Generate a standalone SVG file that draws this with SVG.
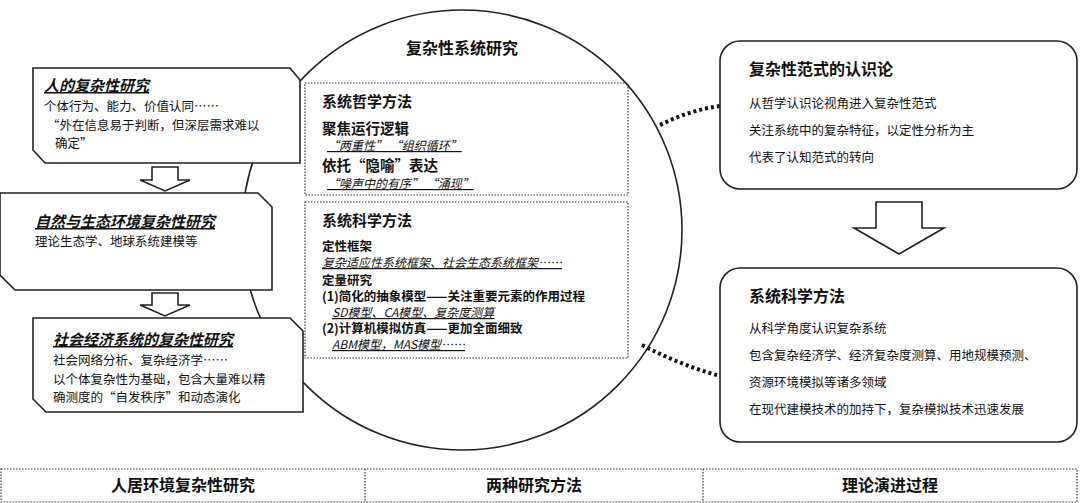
<svg xmlns="http://www.w3.org/2000/svg" width="1080" height="503" viewBox="0 0 1080 503">
<style>
text{font-family:"Noto Sans CJK SC","Liberation Sans",sans-serif;fill:#111}
.ln{fill:#fff;stroke:#222;stroke-width:1.6}
.dot{fill:none;stroke:#333;stroke-width:1.2;stroke-dasharray:1.5 1.5}
.t{font-size:15px;font-weight:bold;font-style:italic;text-decoration:underline}
.h{font-size:16px;font-weight:bold}
.b{font-size:12.5px}
.i{font-size:12px;font-style:italic;text-decoration:underline}
.s{font-size:12.5px;font-weight:600}
.c{stroke:#111;stroke-width:4;stroke-dasharray:3 3;fill:none}
</style>
<rect width="1080" height="503" fill="#fff"/>
<g id="circle"><circle cx="462" cy="230" r="220" class="ln"/>
<text x="462" y="54" class="h" text-anchor="middle">复杂性系统研究</text></g>
<g id="connectors">
<path class="c" d="M660,125 Q690,110 720,106"/>
<path class="c" d="M642,345 Q680,365 720,376"/>
<polygon class="ln" points="152,167 178,167 178,180 190,180 165,191 140,180 152,180"/>
<polygon class="ln" points="152,293 178,293 178,305 190,305 165,316 140,305 152,305"/>
<polygon class="ln" points="876,202 922,202 922,228 944,228 899,254 854,228 876,228"/>
</g>
<g id="philo"><rect x="305" y="83" width="323" height="112" class="dot"/>
<text x="322" y="107" class="h" style="font-size:15px">系统哲学方法</text>
<text x="322" y="134" style="font-weight:600;font-size:14.5px">聚焦运行逻辑</text>
<text x="327" y="150" class="i">“两重性” “组织循环”</text>
<text x="322" y="171" style="font-weight:600;font-size:14.5px">依托“隐喻”表达</text>
<text x="327" y="188" class="i">“噪声中的有序” “涌现”</text></g>
<g id="sci"><rect x="305" y="202" width="323" height="156" class="dot"/>
<text x="322" y="226" class="h" style="font-size:15px">系统科学方法</text>
<text x="322" y="251" class="s">定性框架</text>
<text x="322" y="267" class="i">复杂适应性系统框架、社会生态系统框架……</text>
<text x="322" y="285" class="s">定量研究</text>
<text x="322" y="301" class="s">(1)简化的抽象模型——关注重要元素的作用过程</text>
<text x="332" y="317" class="i">SD模型、CA模型、复杂度测算</text>
<text x="322" y="333" class="s">(2)计算机模拟仿真——更加全面细致</text>
<text x="332" y="349" class="i">ABM模型，MAS模型……</text></g>
<g id="left1"><polygon class="ln" points="33,68 290,68 300,80 300,163 45,163 33,150"/>
<text x="44" y="91" class="t">人的复杂性研究</text>
<text x="44" y="111" class="b">个体行为、能力、价值认同……</text>
<text x="47" y="130" class="b">“外在信息易于判断，但深层需求难以</text>
<text x="55" y="148" class="b">确定”</text></g>
<g id="left2"><polygon class="ln" points="0,193 258,193 272,207 272,290 15,290 0,275"/>
<text x="35" y="227" class="t">自然与生态环境复杂性研究</text>
<text x="35" y="246" class="b">理论生态学、地球系统建模等</text></g>
<g id="left3"><polygon class="ln" points="33,318 290,318 303,331 303,412 46,412 33,399"/>
<text x="53" y="345" class="t">社会经济系统的复杂性研究</text>
<text x="53" y="365" class="b">社会网络分析、复杂经济学……</text>
<text x="53" y="384" class="b">以个体复杂性为基础，包含大量难以精</text>
<text x="53" y="402" class="b">确测度的“自发秩序”和动态演化</text></g>
<g id="right1"><rect x="720" y="41" width="357" height="148" rx="20" class="ln"/>
<text x="749" y="75" class="h">复杂性范式的认识论</text>
<text x="749" y="108" class="b">从哲学认识论视角进入复杂性范式</text>
<text x="749" y="135" class="b">关注系统中的复杂特征，以定性分析为主</text>
<text x="749" y="162" class="b">代表了认知范式的转向</text></g>
<g id="right2"><rect x="720" y="268" width="357" height="174" rx="20" class="ln"/>
<text x="749" y="302" class="h">系统科学方法</text>
<text x="749" y="333" class="b">从科学角度认识复杂系统</text>
<text x="749" y="360" class="b">包含复杂经济学、经济复杂度测算、用地规模预测、</text>
<text x="749" y="387" class="b">资源环境模拟等诸多领域</text>
<text x="749" y="414" class="b">在现代建模技术的加持下，复杂模拟技术迅速发展</text></g>
<g id="table"><rect x="1" y="469" width="1076" height="33" class="dot"/>
<line x1="365" y1="469" x2="365" y2="502" class="dot"/>
<line x1="703" y1="469" x2="703" y2="502" class="dot"/>
<text x="183" y="491" class="h" text-anchor="middle">人居环境复杂性研究</text>
<text x="534" y="491" class="h" text-anchor="middle">两种研究方法</text>
<text x="890" y="491" class="h" text-anchor="middle">理论演进过程</text></g>
</svg>
